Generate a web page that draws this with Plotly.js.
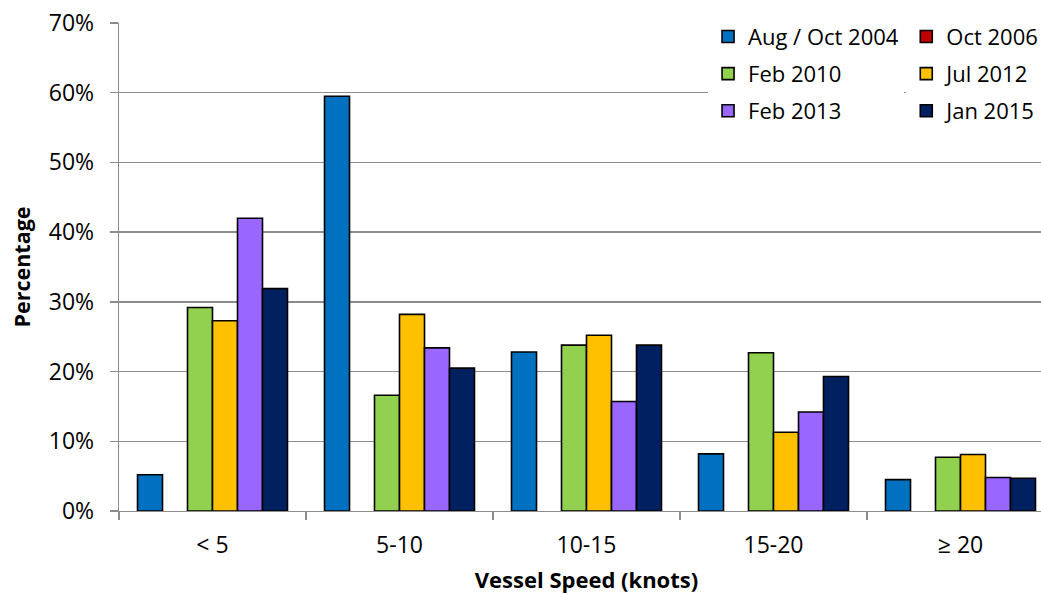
<!DOCTYPE html>
<html>
<head>
<meta charset="utf-8">
<script src="https://cdn.plot.ly/plotly-3.0.1.min.js"></script>
<style>html,body{margin:0;padding:0;background:#fff;overflow:hidden;}#chart{width:1056px;height:594px;}</style>
</head>
<body>
<div id="chart"></div>
<script>
const categories = ["< 5", "5-10", "10-15", "15-20", "≥ 20"];
const seriesNames = ["Aug / Oct 2004", "Oct 2006", "Feb 2010", "Jul 2012", "Feb 2013", "Jan 2015"];
const aug2004 = [0.052, 0.595, 0.228, 0.082, 0.045];
const oct2006 = [null, null, null, null, null];
const feb2010 = [0.292, 0.166, 0.238, 0.227, 0.077];
const jul2012 = [0.273, 0.282, 0.252, 0.113, 0.081];
const feb2013 = [0.420, 0.234, 0.157, 0.142, 0.048];
const jan2015 = [0.319, 0.205, 0.238, 0.193, 0.047];
const colors = ["#0070C0", "#C00000", "#92D050", "#FFC000", "#9966FF", "#002060"];
const legendOf = ["legend", "legend2", "legend", "legend2", "legend", "legend2"];

const values = [aug2004, oct2006, feb2010, jul2012, feb2013, jan2015];
const data = values.map((v, i) => ({
  type: "bar",
  name: seriesNames[i],
  x: categories,
  y: v,
  legend: legendOf[i],
  legendgroup: "g" + i,
  marker: {color: colors[i], line: {color: "#000", width: 1.6}},
  hoverinfo: "x+y+name"
}));

const FONT = "Open Sans, Noto Sans, sans-serif";
const legendCommon = {
  font: {family: FONT, size: 22, color: "#000"},
  bgcolor: "#fff",
  yanchor: "top", y: 1.015,
  xanchor: "left",
  tracegroupgap: 5.5,
  itemwidth: 30
};
const layout = {
  width: 1056, height: 594,
  margin: {l: 119, r: 2, t: 23, b: 83},
  paper_bgcolor: "#fff", plot_bgcolor: "#fff",
  font: {family: FONT, color: "#000"},
  barmode: "group",
  bargap: 0.198,
  bargroupgap: 0,
  xaxis: {
    type: "category",
    tickson: "boundaries",
    ticks: "outside", ticklen: 8, tickcolor: "#8c8c8c", tickwidth: 1.3,
    showline: true, linecolor: "#8c8c8c", linewidth: 1.3,
    tickfont: {size: 23, family: FONT},
    ticklabelstandoff: 13,
    title: {text: "<b>Vessel Speed (knots)</b>", font: {size: 22}, standoff: 14}
  },
  yaxis: {
    range: [0, 0.7], dtick: 0.1, tickformat: ".0%",
    ticks: "outside", ticklen: 8, tickcolor: "#8c8c8c", tickwidth: 1.3,
    showline: true, linecolor: "#8c8c8c", linewidth: 1.3,
    showgrid: true, gridcolor: "#8c8c8c", gridwidth: 1.3,
    zeroline: false,
    tickfont: {size: 23, family: FONT},
    ticklabelstandoff: 11,
    title: {text: "<b>Percentage</b>", font: {size: 21.5}, standoff: 12}
  },
  legend: Object.assign({}, legendCommon, {x: 0.630}),
  legend2: Object.assign({}, legendCommon, {x: 0.842}),
  showlegend: true
};
Plotly.newPlot("chart", data, layout, {displayModeBar: false, staticPlot: true});
</script>
</body>
</html>
